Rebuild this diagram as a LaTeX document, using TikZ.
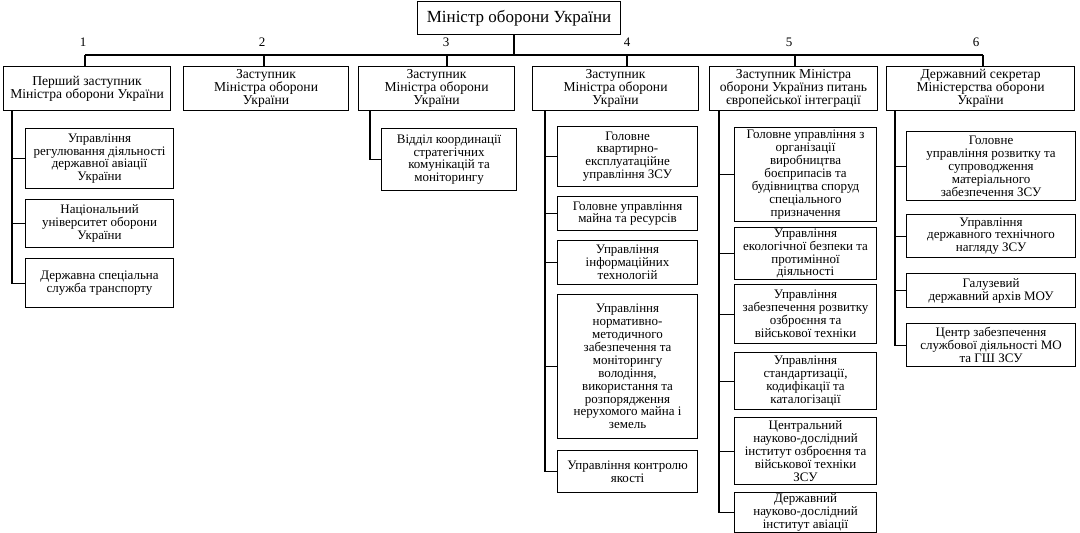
\documentclass[tikz,border=0pt]{standalone}
\usepackage{fontspec}
\setmainfont{Liberation Serif}
\newcommand\bx[7][box]{\node[#1,anchor=north west,minimum width={(#5-#3)*1pt},minimum height={(#6-#4)*1pt}] (#2) at (#3,#4) {#7};}
\begin{document}
\begin{tikzpicture}[x=1pt,y=-1pt,
  box/.style={draw,line width=1.1pt,inner sep=1pt,align=center,font=\fontsize{13}{12.9}\selectfont},
  lbox/.style={box,font=\fontsize{13.6}{12.8}\selectfont},
  tbox/.style={box,font=\fontsize{17}{19}\selectfont},
  num/.style={font=\fontsize{13}{13}\selectfont,inner sep=0pt},
  ln/.style={line width=1.1pt}]
\useasboundingbox[fill=white] (0,0) rectangle (1080,533);
% top
\bx[tbox]{top}{417}{1}{620}{34}{Міністр оборони України}
% level 1
\bx[lbox]{b1}{3}{66}{170}{110}{Перший заступник\\Міністра оборони України}
\bx[lbox]{b2}{183}{66}{348}{110}{Заступник\\Міністра оборони\\України}
\bx[lbox]{b3}{358}{66}{514}{110}{Заступник\\Міністра оборони\\України}
\bx[lbox]{b4}{532}{66}{698}{110}{Заступник\\Міністра оборони\\України}
\bx[lbox]{b5}{709}{66}{877}{110}{Заступник Міністра\\оборони Україниз питань\\європейської інтеграції}
\bx[lbox]{b6}{886}{66}{1074}{110}{Державний секретар\\Міністерства оборони\\України}
% hub
\coordinate (hub) at (514,55);
\coordinate (d1) at (85,55);
\coordinate (d2) at (264,55);
\coordinate (d3) at (447,55);
\coordinate (d4) at (627,55);
\coordinate (d5) at (795,55);
\coordinate (d6) at (983,55);
\draw[ln] (hub |- top.south) -- (hub);
\draw[ln] (d1) -- (d6);
\foreach \i in {1,...,6}{\draw[ln] (d\i) -- (d\i |- b\i.north);}
\node[num] (n1) at (83,42) {1};
\node[num] (n2) at (262,42) {2};
\node[num] (n3) at (446,42) {3};
\node[num] (n4) at (627,42) {4};
\node[num] (n5) at (789,42) {5};
\node[num] (n6) at (976,42) {6};
% column 1
\bx{c11}{25}{128}{173}{188}{Управління\\регулювання діяльності\\державної авіації\\України}
\bx{c12}{25}{199}{173}{247}{Національний\\університет оборони\\України}
\bx{c13}{25}{258}{173}{307}{Державна спеціальна\\служба транспорту}
\coordinate (v1) at (12,110);
\foreach \c in {c11,c12,c13}{\draw[ln] (v1) |- (\c.west);}
% column 3
\bx{c31}{381}{128}{516}{190}{Відділ координації\\стратегічних\\комунікацій та\\моніторингу}
\coordinate (v3) at (370,110);
\draw[ln] (v3) |- (c31.west);
% column 4
\bx{c41}{557}{126}{697}{186}{Головне\\квартирно-\\експлуатаційне\\управління ЗСУ}
\bx{c42}{557}{196}{697}{230}{Головне управління\\майна та ресурсів}
\bx{c43}{557}{240}{697}{284}{Управління\\інформаційних\\технологій}
\bx{c44}{557}{294}{697}{438}{Управління\\нормативно-\\методичного\\забезпечення та\\моніторингу\\володіння,\\використання та\\розпорядження\\нерухомого майна і\\земель}
\bx{c45}{557}{450}{697}{492}{Управління контролю\\якості}
\coordinate (v4) at (545,110);
\foreach \c in {c41,c42,c43,c44,c45}{\draw[ln] (v4) |- (\c.west);}
% column 5
\bx{c51}{734}{127}{876}{221}{Головне управління з\\організації\\виробництва\\боєприпасів та\\будівництва споруд\\спеціального\\призначення}
\bx{c52}{734}{227}{876}{279}{Управління\\екологічної безпеки та\\протимінної\\діяльності}
\bx{c53}{734}{284}{876}{343}{Управління\\забезпечення розвитку\\озброєння та\\військової техніки}
\bx{c54}{734}{352}{876}{409}{Управління\\стандартизації,\\кодифікації та\\каталогізації}
\bx{c55}{734}{417}{876}{484}{Центральний\\науково-дослідний\\інститут озброєння та\\військової техніки\\ЗСУ}
\bx{c56}{734}{492}{876}{532}{Державний\\науково-дослідний\\інститут авіації}
\coordinate (v5) at (719,110);
\foreach \c in {c51,c52,c53,c54,c55,c56}{\draw[ln] (v5) |- (\c.west);}
% column 6
\bx{c61}{906}{131}{1075}{200}{Головне\\управління розвитку та\\супроводження\\матеріального\\забезпечення ЗСУ}
\bx{c62}{906}{214}{1075}{257}{Управління\\державного технічного\\нагляду ЗСУ}
\bx{c63}{906}{273}{1075}{307}{Галузевий\\державний архів МОУ}
\bx{c64}{906}{323}{1075}{366}{Центр забезпечення\\службової діяльності МО\\та ГШ ЗСУ}
\coordinate (v6) at (895,110);
\foreach \c in {c61,c62,c63,c64}{\draw[ln] (v6) |- (\c.west);}
\end{tikzpicture}
\end{document}
